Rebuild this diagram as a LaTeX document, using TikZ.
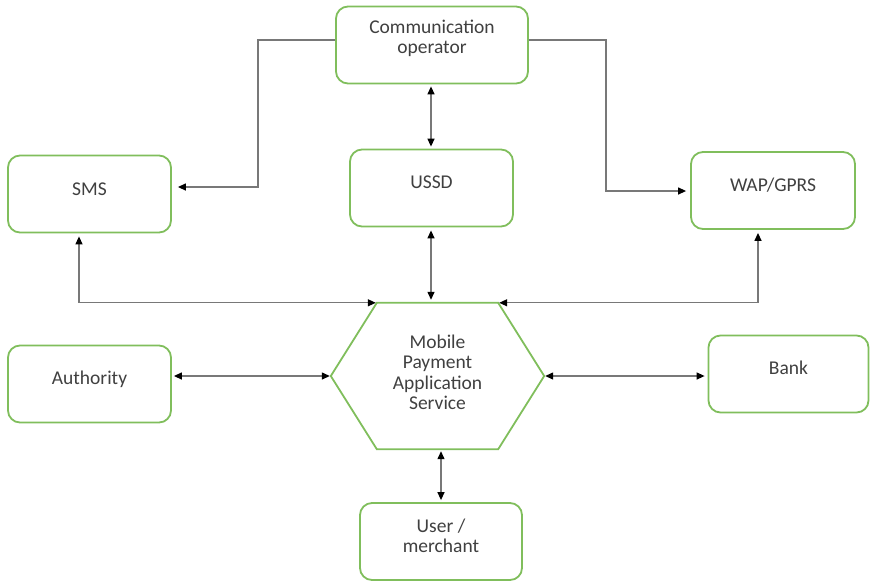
\documentclass[tikz,border=0pt]{standalone}
\usepackage{fontspec}
\setmainfont{Carlito}
\usetikzlibrary{arrows.meta,calc}
\definecolor{boxgreen}{RGB}{128,190,92}
\definecolor{txtgray}{RGB}{64,64,64}
\definecolor{linegray}{RGB}{120,120,120}
\tikzset{
  stepbox/.style={draw=boxgreen, line width=1.8pt, rounded corners=12pt,
    fill=white, minimum width=#1, minimum height=77pt, inner sep=0pt},
  lbl/.style={text=txtgray, font=\fontsize{19.5}{20.5}\selectfont,
    align=center, inner sep=0pt},
  conn/.style={draw=linegray, line width=1.3pt},
  tipped/.style={conn, -{Triangle[color=black,length=8pt,width=7pt]}},
  both/.style={conn, {Triangle[color=black,length=8pt,width=7pt]}-{Triangle[color=black,length=8pt,width=7pt]}}
}
\begin{document}
\begin{tikzpicture}[x=1pt,y=-1pt]
\useasboundingbox (0,0) rectangle (870,582);

% boxes
\node[stepbox=192pt] (comm) at (432,45) {};
\node[lbl] (commt) at (432,38.5) {Communication\\operator};
\node[stepbox=163pt] (ussd) at (431.5,188) {};
\node[lbl] (ussdt) at (431.5,182) {USSD};
\node[stepbox=163pt] (sms) at (89.5,194) {};
\node[lbl] (smst) at (89.5,189) {SMS};
\node[stepbox=164pt] (wap) at (773,190.5) {};
\node[lbl] (wapt) at (773,185) {WAP/GPRS};
\node[stepbox=163pt] (auth) at (89.5,384) {};
\node[lbl] (autht) at (89.5,379) {Authority};
\node[stepbox=160pt] (bank) at (788.5,374) {};
\node[lbl] (bankt) at (788.5,368) {Bank};
\node[stepbox=162pt] (user) at (441,541.5) {};
\node[lbl] (usert) at (441,536) {User /\\merchant};

% central hexagon
\node[minimum width=213pt, minimum height=146pt, inner sep=0pt] (mpas) at (437.5,376) {};
\draw[draw=boxgreen, line width=1.8pt]
  (mpas.west) -- ($(mpas.north west)+(46,0)$) -- ($(mpas.north east)+(-46,0)$)
  -- (mpas.east) -- ($(mpas.south east)+(-46,0)$) -- ($(mpas.south west)+(46,0)$)
  -- cycle;
\node[lbl] (mpast) at (437.5,372.5) {Mobile\\Payment\\Application\\Service};
\coordinate (hexnw) at ($(mpas.north west)+(46,0)$);
\coordinate (hexne) at ($(mpas.north east)+(-46,0)$);

% operator to SMS and WAP/GPRS
\coordinate (cl) at (258,40);
\coordinate (cr) at (606,40);
\draw[tipped, shorten >=6pt] (comm.west |- cl) -- (cl) |- (sms.east |- 0,187);
\draw[tipped, shorten >=4pt] (comm.east |- cr) -- (cr) |- (wap.west |- 0,191);

% vertical links
\draw[both, shorten <=2pt, shorten >=2pt] (comm.south -| 431,0) -- (ussd.north -| 431,0);
\draw[both, shorten <=3pt, shorten >=3pt] (ussd.south -| 431,0) -- (mpas.north -| 431,0);
\draw[both, shorten <=2pt, shorten >=2pt] (mpas.south -| 441,0) -- (user.north -| 441,0);

% SMS and WAP/GPRS to the service
\draw[both, shorten <=3pt, shorten >=1pt] (sms.south -| 79,0) |- (hexnw);
\draw[both, shorten <=3pt, shorten >=1pt] (wap.south -| 758,0) |- (hexne);

% side links
\draw[both, shorten <=2pt, shorten >=1pt] (auth.east |- 0,376) -- (mpas.west);
\draw[both, shorten <=1pt, shorten >=3pt] (mpas.east) -- (bank.west |- 0,376);
\end{tikzpicture}
\end{document}
